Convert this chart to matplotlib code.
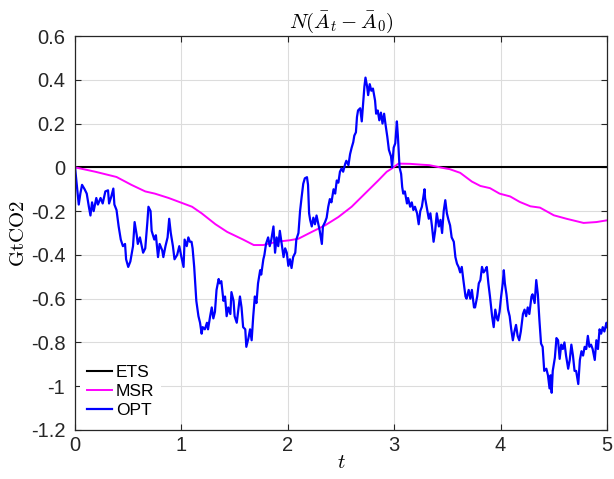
import matplotlib
matplotlib.use("Agg")
import matplotlib.pyplot as plt

# ---- data ----
ets_t = [0.0, 5.0]
ets_v = [0.0, 0.0]

msr_t = [0.0, 0.19, 0.39, 0.53, 0.66, 0.75, 0.88, 0.99, 1.10, 1.19, 1.32, 1.43,
         1.58, 1.68, 1.77, 1.895, 2.02, 2.10, 2.225, 2.35, 2.475, 2.60, 2.725,
         2.85, 2.93, 2.975, 3.04, 3.15, 3.26, 3.33, 3.45, 3.52, 3.62, 3.73,
         3.81, 3.90, 3.99, 4.09, 4.18, 4.28, 4.37, 4.50, 4.62, 4.78, 4.90, 5.0]
msr_v = [0.0, -0.02, -0.044, -0.08, -0.11, -0.12, -0.14, -0.16, -0.18, -0.21,
         -0.26, -0.295, -0.33, -0.355, -0.355, -0.34, -0.333, -0.326, -0.295,
         -0.265, -0.227, -0.18, -0.12, -0.06, -0.02, -0.006, 0.017, 0.016,
         0.012, 0.010, -0.002, -0.008, -0.025, -0.065, -0.085, -0.095, -0.12,
         -0.133, -0.158, -0.178, -0.184, -0.219, -0.235, -0.254, -0.25, -0.242]

opt_t = [0.0, 0.035, 0.05, 0.066, 0.09, 0.11, 0.13, 0.145, 0.16, 0.175, 0.2,
         0.215, 0.24, 0.26, 0.285, 0.31, 0.32, 0.34, 0.36, 0.37, 0.39, 0.41,
         0.43, 0.45, 0.47, 0.48, 0.50, 0.52, 0.545, 0.56, 0.58, 0.59, 0.61,
         0.64, 0.66, 0.68, 0.69, 0.71, 0.72, 0.745, 0.76, 0.78, 0.795, 0.82,
         0.83, 0.85, 0.87, 0.885, 0.90, 0.92, 0.935, 0.96, 0.98, 1.0, 1.02,
         1.03, 1.05, 1.065, 1.08, 1.095, 1.105, 1.12, 1.13, 1.14, 1.16, 1.175,
         1.19, 1.20, 1.22, 1.24, 1.25, 1.27, 1.285, 1.30, 1.315, 1.33, 1.35,
         1.36, 1.375, 1.395, 1.41, 1.425, 1.44, 1.46, 1.47, 1.49, 1.50, 1.52,
         1.535, 1.55, 1.565, 1.58, 1.60, 1.61, 1.63, 1.645, 1.66, 1.675, 1.69,
         1.705, 1.72, 1.74, 1.75, 1.77, 1.78, 1.795, 1.815, 1.83, 1.845, 1.865,
         1.88, 1.895, 1.91, 1.925, 1.94, 1.96, 1.975, 1.99, 2.005, 2.02, 2.035,
         2.05, 2.07, 2.08, 2.10, 2.115, 2.13, 2.145, 2.16, 2.18, 2.19, 2.20,
         2.21, 2.225, 2.24, 2.255, 2.27, 2.285, 2.30, 2.32, 2.33, 2.35, 2.365,
         2.38, 2.395, 2.41, 2.43, 2.445, 2.46, 2.475, 2.49, 2.505, 2.52, 2.54,
         2.55, 2.57, 2.585, 2.60, 2.615, 2.625, 2.64, 2.65, 2.66, 2.68, 2.695,
         2.71, 2.72, 2.73, 2.745, 2.755, 2.77, 2.785, 2.80, 2.82, 2.83, 2.845,
         2.86, 2.875, 2.89, 2.905, 2.92, 2.935, 2.95, 2.97, 2.98, 2.995, 3.01,
         3.025, 3.035, 3.05, 3.065, 3.075, 3.085, 3.10, 3.12, 3.13, 3.15, 3.165,
         3.18, 3.195, 3.215, 3.23, 3.245, 3.26, 3.285, 3.29, 3.31, 3.325, 3.34,
         3.355, 3.37, 3.385, 3.40, 3.42, 3.435, 3.45, 3.465, 3.48, 3.495, 3.51,
         3.525, 3.54, 3.56, 3.575, 3.59, 3.605, 3.62, 3.635, 3.65, 3.67, 3.68,
         3.70, 3.715, 3.73, 3.75, 3.76, 3.78, 3.795, 3.81, 3.825, 3.84, 3.855,
         3.87, 3.885, 3.90, 3.92, 3.935, 3.95, 3.965, 3.975, 3.99, 4.005, 4.02,
         4.03, 4.04, 4.055, 4.07, 4.085, 4.10, 4.115, 4.13, 4.145, 4.16, 4.175,
         4.19, 4.21, 4.225, 4.24, 4.255, 4.27, 4.29, 4.30, 4.32, 4.335, 4.35,
         4.365, 4.38, 4.395, 4.41, 4.43, 4.445, 4.46, 4.47, 4.48, 4.49, 4.51,
         4.525, 4.54, 4.555, 4.57, 4.585, 4.60, 4.615, 4.635, 4.65, 4.665, 4.68,
         4.695, 4.71, 4.73, 4.745, 4.76, 4.775, 4.79, 4.805, 4.82, 4.835, 4.85,
         4.865, 4.885, 4.90, 4.915, 4.93, 4.945, 4.96, 4.975, 4.995, 5.0]
opt_v = [0.0, -0.17, -0.12, -0.08, -0.10, -0.12, -0.18, -0.22, -0.16, -0.20,
         -0.14, -0.17, -0.14, -0.165, -0.11, -0.105, -0.165, -0.135, -0.097,
         -0.17, -0.195, -0.27, -0.33, -0.36, -0.35, -0.42, -0.455, -0.43, -0.36,
         -0.25, -0.31, -0.35, -0.32, -0.39, -0.37, -0.25, -0.18, -0.20, -0.29,
         -0.33, -0.31, -0.41, -0.35, -0.38, -0.41, -0.36, -0.32, -0.235, -0.30,
         -0.36, -0.42, -0.40, -0.36, -0.41, -0.455, -0.33, -0.36, -0.32, -0.34,
         -0.34, -0.37, -0.455, -0.53, -0.61, -0.68, -0.71, -0.76, -0.73, -0.74,
         -0.71, -0.74, -0.68, -0.64, -0.69, -0.66, -0.56, -0.51, -0.53, -0.52,
         -0.61, -0.59, -0.68, -0.64, -0.67, -0.57, -0.61, -0.68, -0.71, -0.65,
         -0.59, -0.64, -0.73, -0.74, -0.82, -0.78, -0.74, -0.79, -0.68, -0.59,
         -0.62, -0.53, -0.47, -0.49, -0.42, -0.40, -0.35, -0.32, -0.36, -0.33,
         -0.27, -0.39, -0.32, -0.36, -0.29, -0.34, -0.41, -0.37, -0.39, -0.45,
         -0.42, -0.46, -0.41, -0.39, -0.33, -0.30, -0.20, -0.135, -0.075, -0.05,
         -0.045, -0.08, -0.21, -0.24, -0.27, -0.23, -0.26, -0.22, -0.255, -0.29,
         -0.35, -0.27, -0.25, -0.23, -0.18, -0.145, -0.16, -0.10, -0.12, -0.06,
         -0.07, -0.02, -0.005, -0.02, 0.017, 0.03, 0.01, 0.06, 0.09, 0.115,
         0.145, 0.16, 0.23, 0.26, 0.27, 0.21, 0.305, 0.37, 0.41, 0.37, 0.33,
         0.38, 0.35, 0.36, 0.305, 0.245, 0.26, 0.215, 0.25, 0.20, 0.245, 0.19,
         0.14, 0.08, 0.05, 0.0, 0.09, 0.11, 0.21, 0.14, 0.0, -0.03, -0.09,
         -0.12, -0.11, -0.165, -0.14, -0.18, -0.16, -0.195, -0.18, -0.21, -0.26,
         -0.20, -0.18, -0.10, -0.14, -0.195, -0.235, -0.21, -0.27, -0.34, -0.29,
         -0.21, -0.27, -0.24, -0.30, -0.20, -0.15, -0.21, -0.24, -0.265, -0.32,
         -0.34, -0.41, -0.44, -0.455, -0.48, -0.455, -0.515, -0.59, -0.60,
         -0.56, -0.60, -0.56, -0.64, -0.64, -0.59, -0.53, -0.515, -0.455, -0.48,
         -0.47, -0.455, -0.53, -0.59, -0.68, -0.73, -0.65, -0.69, -0.70, -0.66,
         -0.59, -0.53, -0.47, -0.53, -0.58, -0.65, -0.68, -0.74, -0.79, -0.75,
         -0.72, -0.77, -0.79, -0.75, -0.67, -0.65, -0.68, -0.64, -0.67, -0.59,
         -0.58, -0.62, -0.515, -0.58, -0.70, -0.805, -0.82, -0.93, -0.92, -0.95,
         -1.01, -0.95, -1.03, -0.93, -0.87, -0.78, -0.79, -0.875, -0.81, -0.83,
         -0.80, -0.86, -0.92, -0.88, -0.81, -0.86, -0.93, -0.93, -0.99, -0.88,
         -0.84, -0.86, -0.82, -0.83, -0.77, -0.82, -0.81, -0.83, -0.88, -0.79,
         -0.83, -0.74, -0.76, -0.73, -0.75, -0.71, -0.73]

x_ticks = [0, 1, 2, 3, 4, 5]
y_ticks = [-1.2, -1.0, -0.8, -0.6, -0.4, -0.2, 0.0, 0.2, 0.4, 0.6]
y_tick_labels = ["-1.2", "-1", "-0.8", "-0.6", "-0.4", "-0.2", "0", "0.2", "0.4", "0.6"]

# ---- style ----
plt.rcParams["mathtext.fontset"] = "cm"
plt.rcParams["font.family"] = ["Liberation Sans", "DejaVu Sans"]

fig = plt.figure(figsize=(6.14, 4.79), dpi=100)
ax = fig.add_axes([0.1222, 0.1023, 0.8664, 0.8225])

ax.plot(ets_t, ets_v, color="black", lw=1.5, label="ETS")
ax.plot(msr_t, msr_v, color="#ff00ff", lw=1.4, label="MSR")
ax.plot(opt_t, opt_v, color="#0000ff", lw=1.6, label="OPT")

ax.set_xlim(0, 5)
ax.set_ylim(-1.2, 0.6)
ax.set_xticks(x_ticks)
ax.set_yticks(y_ticks)
ax.set_yticklabels(y_tick_labels)
ax.tick_params(direction="in", top=True, right=True, labelsize=14.5,
               colors="#262626", length=4, width=0.8)
ax.tick_params(axis="y", pad=7)
ax.tick_params(axis="x", pad=4)
ax.grid(True, color="#dcdcdc", lw=0.8)
ax.set_axisbelow(True)
for s in ax.spines.values():
    s.set_color("#262626")
    s.set_linewidth(0.9)

ax.set_title(r"$N(\bar{A}_t - \bar{A}_0)$", fontsize=15, pad=6)
ax.set_xlabel(r"$t$", fontsize=15, labelpad=-1)
ax.set_ylabel(r"$\mathrm{GtCO2}$", fontsize=15, labelpad=2)

leg = ax.legend(loc="lower left", bbox_to_anchor=(0.0, 0.0), fontsize=12.5,
                frameon=True, facecolor="white", edgecolor="none",
                framealpha=1.0, handlelength=1.45, handletextpad=0.2,
                labelspacing=0.22, borderaxespad=0.3, fancybox=False)

fig.savefig("out.png", dpi=100)
